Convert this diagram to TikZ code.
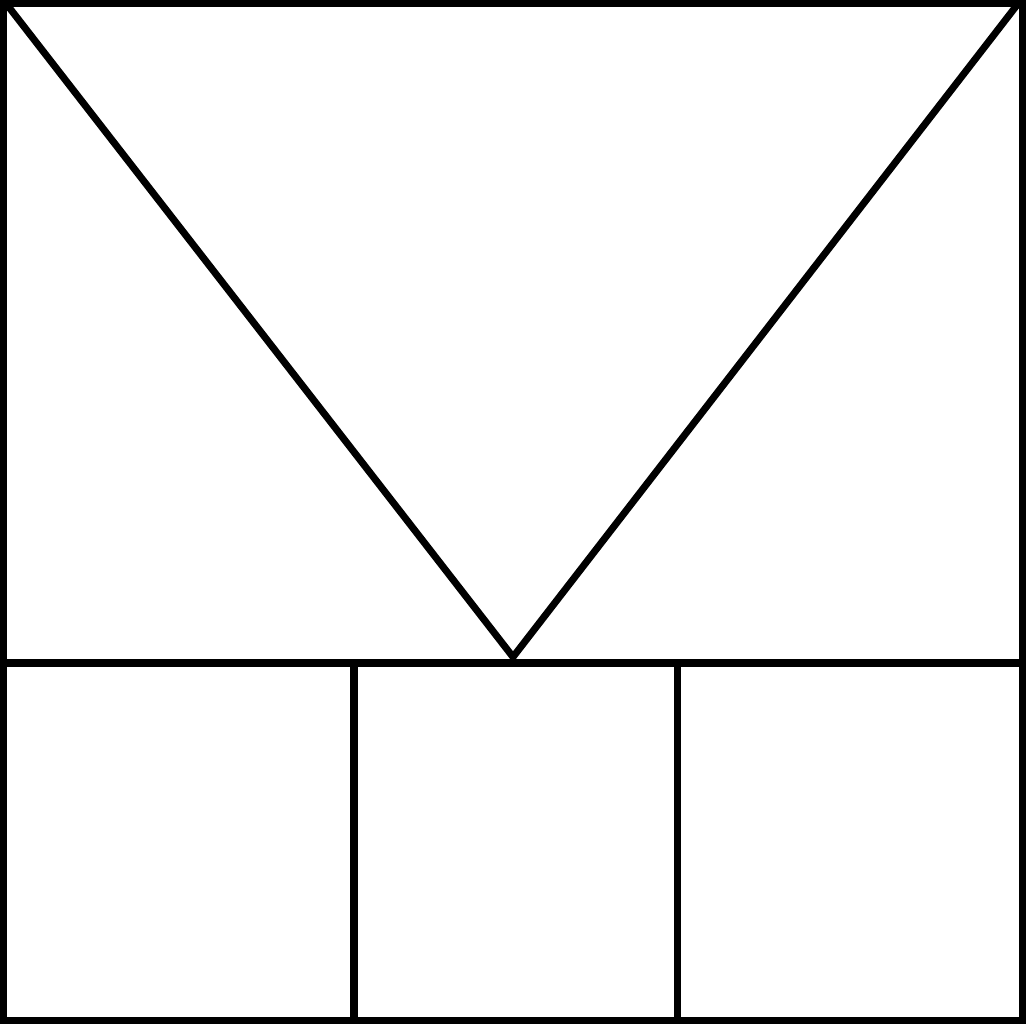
\documentclass[tikz,border=0pt]{standalone}
\usepackage{tikz}

\begin{document}
\begin{tikzpicture}[
    edge/.style={draw=black, line width=2pt}
  ]
  \useasboundingbox (0,0) rectangle (10.26,10.24);
  % frame and corners
  \coordinate (bl) at (0.035,0.035);
  \coordinate (tr) at (10.225,10.205);
  \coordinate (midl) at (0.035,3.61);
  \coordinate (midr) at (10.225,3.61);
  \coordinate (apex) at (5.13,3.67);
  \coordinate (vl) at (0.08,10.18);
  \coordinate (vr) at (10.17,10.19);

  \draw[edge] (bl) rectangle (tr);
  \draw[edge] (midl) -- (midr);
  \draw[edge] (3.54,3.61) -- (3.54,0.035);
  \draw[edge] (6.77,3.61) -- (6.77,0.035);
  \draw[edge] (vl) -- (apex) -- (vr);
\end{tikzpicture}
\end{document}
